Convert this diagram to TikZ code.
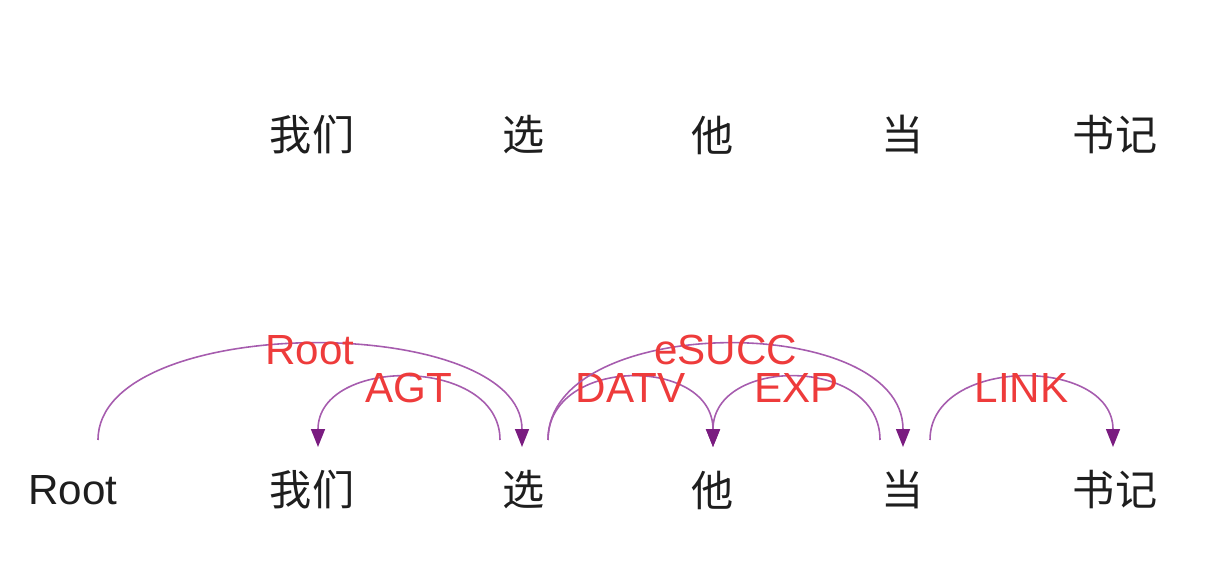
\documentclass[tikz,border=0pt]{standalone}
\usepackage{fontspec}
\usepackage{tikz}
\usetikzlibrary{arrows.meta,calc}
\setmainfont{Liberation Sans}
\newfontfamily\cjk{Noto Sans CJK SC}
\definecolor{ink}{HTML}{1E1E1E}
\definecolor{arcline}{HTML}{A65CAE}
\definecolor{arctip}{HTML}{7A1C80}
\definecolor{labred}{HTML}{EE3B3B}

\begin{document}
\begin{tikzpicture}[x=0.02cm, y=0.02cm, every node/.style={font=\fontsize{24}{28}\selectfont, inner sep=0pt, text=ink}, word/.style={font=\fontsize{24}{28}\selectfont\cjk}, lab/.style={text=labred, yshift=-0.2cm}, labtop/.style={text=labred, yshift=-0.1cm}, arc/.style={draw=arcline, line width=0.9pt, -{Triangle[length=0.36cm, width=0.28cm, color=arctip]}}]
\useasboundingbox (0,0) rectangle (1206,564);
% top row
\node[word] (t1) at (312,429) {我们};\node[word] (t2) at (524,429) {选};\node[word] (t3) at (713,429) {他};\node[word] (t4) at (903,429) {当};\node[word] (t5) at (1115,429) {书记};
% bottom row
\node (b0) at (73,74) {Root};\node[word] (b1) at (312,74) {我们};\node[word] (b2) at (524,74) {选};\node[word] (b3) at (713,74) {他};\node[word] (b4) at (903,74) {当};\node[word] (b5) at (1115,74) {书记};
% arcs
\draw[arc] ($(b0)+(25,50)$) .. controls +(0,128) and +(0,135) .. ($(b2)+(-2,43)$) node[midway, labtop] {Root};
\draw[arc] ($(b2)+(-24,50)$) .. controls +(0,84) and +(0,91) .. ($(b1)+(6,43)$) node[midway, lab] {AGT};
\draw[arc] ($(b2)+(24,50)$) .. controls +(0,84) and +(0,91) .. ($(b3)+(0,43)$) node[midway, lab] {DATV};
\draw[arc] ($(b2)+(24,50)$) .. controls +(0,128) and +(0,135) .. ($(b4)+(0,43)$) node[midway, labtop] {eSUCC};
\draw[arc] ($(b4)+(-23,50)$) .. controls +(0,84) and +(0,91) .. ($(b3)+(0,43)$) node[midway, lab] {EXP};
\draw[arc] ($(b4)+(27,50)$) .. controls +(0,84) and +(0,91) .. ($(b5)+(-2,43)$) node[midway, lab] {LINK};
\end{tikzpicture}
\end{document}
